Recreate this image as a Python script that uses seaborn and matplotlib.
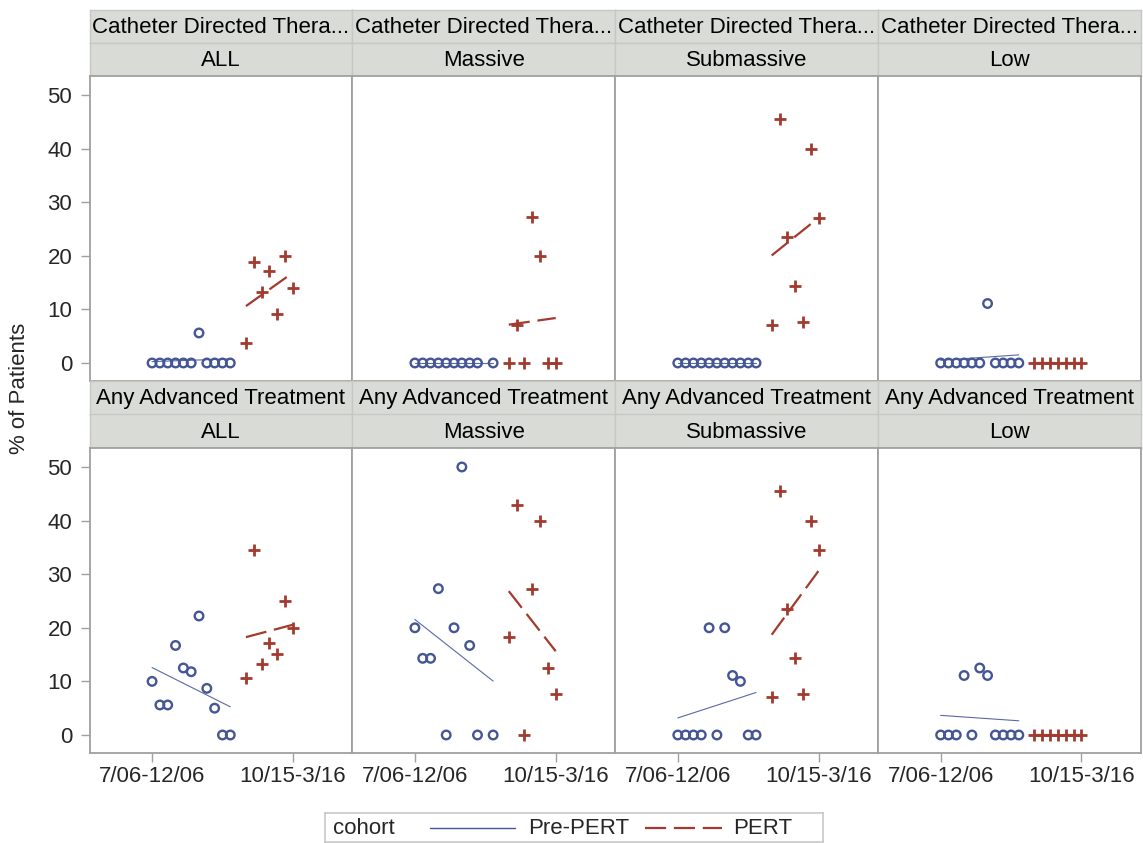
import numpy as np
import pandas as pd
import matplotlib
matplotlib.use("Agg")
import matplotlib.pyplot as plt
import seaborn as sns

sns.set_theme(style="white")
plt.rcParams["font.family"] = ["Liberation Sans", "DejaVu Sans"]

# ---------------- data ----------------
treatments = ["Catheter Directed Thera...", "Any Advanced Treatment"]
severities = ["ALL", "Massive", "Submassive", "Low"]
cohorts = ["Pre-PERT", "PERT"]
pre_periods = list(range(0, 11))
pert_periods = list(range(12, 19))
tick_periods = [0, 18]
tick_labels = ["7/06-12/06", "10/15-3/16"]
y_ticks = [0, 10, 20, 30, 40, 50]
nan = np.nan

cdt_all_pre = [0, 0, 0, 0, 0, 0, 5.6, 0, 0, 0, 0]
cdt_all_pert = [3.7, 18.8, 13.3, 17.2, 9.1, 20.0, 14.0]
cdt_massive_pre = [0, 0, 0, 0, 0, 0, 0, 0, 0, nan, 0]
cdt_massive_pert = [0, 7.1, 0, 27.3, 20.0, 0, 0]
cdt_sub_pre = [0, 0, 0, 0, 0, 0, 0, 0, 0, 0, 0]
cdt_sub_pert = [7.1, 45.5, 23.5, 14.3, 7.7, 40.0, 27.0]
cdt_low_pre = [0, 0, 0, 0, 0, 0, 11.1, 0, 0, 0, 0]
cdt_low_pert = [0, 0, 0, 0, 0, 0, 0]

any_all_pre = [10.0, 5.6, 5.6, 16.7, 12.5, 11.8, 22.2, 8.7, 5.0, 0, 0]
any_all_pert = [10.7, 34.5, 13.3, 17.2, 15.2, 25.0, 20.0]
any_massive_pre = [20.0, 14.3, 14.3, 27.3, 0, 20.0, 50.0, 16.7, 0, nan, 0]
any_massive_pert = [18.2, 42.9, 0, 27.3, 40.0, 12.5, 7.7]
any_sub_pre = [0, 0, 0, 0, 20.0, 0, 20.0, 11.1, 10.0, 0, 0]
any_sub_pert = [7.1, 45.5, 23.5, 14.3, 7.7, 40.0, 34.6]
any_low_pre = [0, 0, 0, 11.1, 0, 12.5, 11.1, 0, 0, 0, 0]
any_low_pert = [0, 0, 0, 0, 0, 0, 0]

series = {
    (treatments[0], "ALL"): (cdt_all_pre, cdt_all_pert),
    (treatments[0], "Massive"): (cdt_massive_pre, cdt_massive_pert),
    (treatments[0], "Submassive"): (cdt_sub_pre, cdt_sub_pert),
    (treatments[0], "Low"): (cdt_low_pre, cdt_low_pert),
    (treatments[1], "ALL"): (any_all_pre, any_all_pert),
    (treatments[1], "Massive"): (any_massive_pre, any_massive_pert),
    (treatments[1], "Submassive"): (any_sub_pre, any_sub_pert),
    (treatments[1], "Low"): (any_low_pre, any_low_pert),
}

rows = []
for (trt, sev), (pre, pert) in series.items():
    for p, v in zip(pre_periods, pre):
        rows.append((trt, sev, "Pre-PERT", p, v))
    for p, v in zip(pert_periods, pert):
        rows.append((trt, sev, "PERT", p, v))
df = pd.DataFrame(rows, columns=["treatment", "severity", "cohort", "period", "pct"])

# ---------------- style ----------------
BLUE = "#445694"
RED = "#A23A2E"
HEADER = "#D9DBD6"
FRAME = "#A0A0A0"
FS = 16

W, H = 1143, 843
fig = plt.figure(figsize=(W / 100, H / 100), dpi=100)


def px_axes(x0, y0, x1, y1):
    return fig.add_axes([x0 / W, 1 - y1 / H, (x1 - x0) / W, (y1 - y0) / H])


col_x = [89.5, 352.3, 615.2, 878.1, 1140.8]
row_geo = [  # header1 top, header split, panel top, panel bottom
    (10, 43, 76, 381),
    (381, 414.5, 448, 753),
]

for r, trt in enumerate(treatments):
    h0, h1, p0, p1 = row_geo[r]
    for c, sev in enumerate(severities):
        x0, x1 = col_x[c], col_x[c + 1]
        # header cells
        for (ya, yb, txt) in [(h0, h1, trt), (h1, p0, sev)]:
            hax = px_axes(x0, ya, x1, yb)
            hax.set_facecolor(HEADER)
            hax.set_xticks([])
            hax.set_yticks([])
            for s in hax.spines.values():
                s.set_color("#C6C8C4")
                s.set_linewidth(1.0)
            hax.text(0.5, 0.47, txt, ha="center", va="center", fontsize=FS,
                     color="black", transform=hax.transAxes)
        # panel
        ax = px_axes(x0, p0, x1, p1)
        sub = df[(df.treatment == trt) & (df.severity == sev)]
        pre = sub[sub.cohort == "Pre-PERT"]
        pert = sub[sub.cohort == "PERT"]

        sns.regplot(data=pre, x="period", y="pct", scatter=False, ci=None,
                    truncate=True, color=BLUE, ax=ax,
                    line_kws=dict(lw=0.8, color="#5A69A8", zorder=2))
        sns.regplot(data=pert, x="period", y="pct", scatter=False, ci=None,
                    truncate=True, color=RED, ax=ax,
                    line_kws=dict(lw=1.6, color=RED, linestyle=(0, (9.5, 3.5)),
                                  zorder=2))
        sns.scatterplot(data=pre, x="period", y="pct", marker="o", s=38,
                        color=BLUE, facecolor="none", edgecolor=BLUE,
                        linewidth=1.7, ax=ax, zorder=3, legend=False)
        sns.scatterplot(data=pert, x="period", y="pct", marker="+", s=85,
                        color=RED, linewidth=2.0, ax=ax, zorder=3, legend=False)

        ax.set_xlim(-8.0, 25.6)
        ax.set_ylim(-3.36, 53.54)
        ax.set_xlabel("")
        ax.set_ylabel("")
        ax.set_facecolor("white")
        for s in ax.spines.values():
            s.set_color(FRAME)
            s.set_linewidth(1.3)
        ax.set_yticks(y_ticks)
        ax.tick_params(axis="y", left=(c == 0), labelleft=(c == 0), length=6.5,
                       width=1, color=FRAME, labelsize=FS, pad=6)
        if r == 1:
            ax.set_xticks(tick_periods)
            ax.set_xticklabels(tick_labels)
            ax.tick_params(axis="x", bottom=True, length=6.5, width=1,
                           color=FRAME, labelsize=FS, pad=2.5)
        else:
            ax.set_xticks([])

fig.text(20 / W, 1 - 388 / H, "% of Patients", rotation=90, ha="center",
         va="center", fontsize=FS)

# ---------------- legend ----------------
lax = px_axes(325, 813, 823, 842)
lax.set_xlim(0, 1)
lax.set_ylim(0, 1)
lax.set_xticks([])
lax.set_yticks([])
for s in lax.spines.values():
    s.set_color("#C8C8C8")
    s.set_linewidth(1.2)
lax.text(0.016, 0.45, "cohort", ha="left", va="center", fontsize=FS)
lax.plot([0.211, 0.382], [0.5, 0.5], color=BLUE, lw=1.0)
lax.text(0.408, 0.45, "Pre-PERT", ha="left", va="center", fontsize=FS)
lax.plot([0.642, 0.797], [0.5, 0.5], color=RED, lw=1.6,
         linestyle=(0, (9.5, 3.5)))
lax.text(0.819, 0.45, "PERT", ha="left", va="center", fontsize=FS)

fig.savefig("out.png", dpi=100, facecolor="white")
